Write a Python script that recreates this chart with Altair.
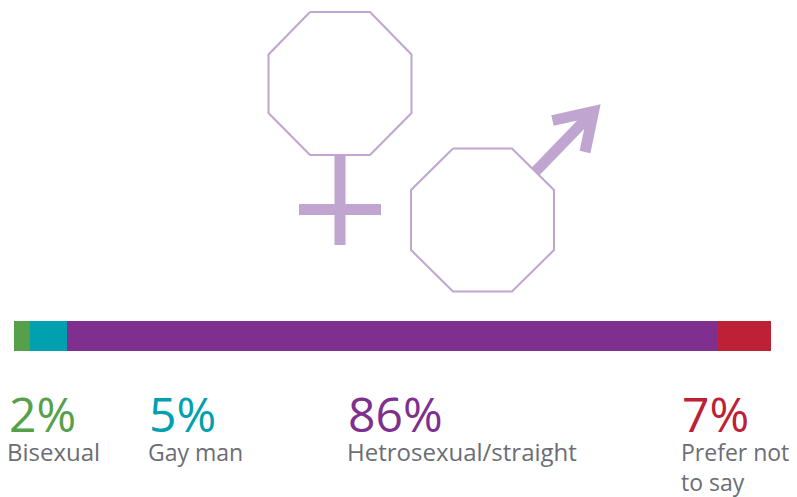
import altair as alt
import pandas as pd

# --- values
categories = ["Bisexual", "Gay man", "Hetrosexual/straight", "Prefer not to say"]
shares = [2.11, 4.89, 85.87, 7.13]
percent_labels = ["2%", "5%", "86%", "7%"]
colours = ["#56A04A", "#00A0B0", "#7F308F", "#BE2035"]

# --- icon outlines, in picture pixels
female_x = [310, 370, 411.5, 411.5, 370, 310, 268.5, 268.5, 310]
female_y = [12, 12, 54.5, 113, 155, 155, 113, 54.5, 12]
male_x = [453, 512, 554, 554, 512, 453, 411, 411, 453]
male_y = [148.5, 148.5, 190, 250, 291.5, 291.5, 250, 190, 148.5]
stem_x = [340, 340]
stem_y = [154, 245]
bar_x = [299, 381]
bar_y = [209.5, 209.5]
shaft_x = [535, 593]
shaft_y = [172, 112]
head_x = [552.5, 593.5, 585]
head_y = [120.5, 111.5, 152]

# --- label placement, in picture pixels
pct_x = [9, 149, 348, 682]
name_labels = ["Bisexual", "Gay man", "Hetrosexual/straight", "Prefer not", "to say"]
name_x = [7, 148, 347, 681, 681]
name_y = [461, 461, 461, 461, 491]
name_size = [24, 23, 24, 23, 23]
pct_base = 432

W, H = 781, 489
X = alt.X("x:Q", axis=None, scale=alt.Scale(domain=[8, 8 + W], range=[0, W], nice=False, zero=False))
Y = alt.Y("y:Q", axis=None, scale=alt.Scale(domain=[8, 8 + H], range=[0, H], nice=False, zero=False))
ICON = "#BFA5D0"
FONT = "Open Sans"


def path(xs, ys):
    return pd.DataFrame({"x": xs, "y": ys, "i": range(len(xs))})


def outline(xs, ys, width):
    return (
        alt.Chart(path(xs, ys))
        .mark_line(color=ICON, strokeWidth=width, strokeCap="butt", strokeJoin="miter", strokeMiterLimit=10, clip=False)
        .encode(x=X, y=Y, order="i:Q")
    )


segments = pd.DataFrame({"cat": categories, "share": shares, "i": range(4)})
bars = (
    alt.Chart(segments)
    .transform_stack(stack="share", as_=["s0", "s1"], groupby=[], sort=[alt.SortField("i", order="ascending")])
    .mark_bar(cornerRadius=0)
    .encode(
        x=alt.X("s0:Q", axis=None, scale=alt.Scale(domain=[0, 100], range=[6, 763], nice=False)),
        x2="s1:Q",
        y=alt.value(313),
        y2=alt.value(343),
        color=alt.Color("cat:N", legend=None, scale=alt.Scale(domain=categories, range=colours)),
    )
)

pct_text = alt.Chart(
    pd.DataFrame({"t": percent_labels, "cat": categories, "x": pct_x, "y": [pct_base] * 4})
).mark_text(font=FONT, fontSize=48, align="left", baseline="alphabetic").encode(
    x=X, y=Y, text="t:N",
    color=alt.Color("cat:N", legend=None, scale=alt.Scale(domain=categories, range=colours)),
)

name_rows = pd.DataFrame({"t": name_labels, "x": name_x, "y": name_y, "s": name_size})
name_text = alt.Chart(name_rows).mark_text(
    font=FONT, align="left", baseline="alphabetic", color="#6B6D75"
).encode(x=X, y=Y, text="t:N", size=alt.Size("s:Q", scale=None, legend=None))

chart = (
    alt.layer(
        outline(female_x, female_y, 2),
        outline(male_x, male_y, 2),
        outline(stem_x, stem_y, 11),
        outline(bar_x, bar_y, 11),
        outline(shaft_x, shaft_y, 11),
        outline(head_x, head_y, 11),
        bars,
        pct_text,
        name_text,
    )
    .resolve_scale(x="independent", y="independent", color="independent", size="independent")
    .properties(width=W, height=H, padding=0, background="white",
                autosize=alt.AutoSizeParams(type="none"))
    .configure_view(stroke=None, strokeWidth=0)
)
chart.save("out.html", embed_options={"renderer": "svg", "actions": False})
